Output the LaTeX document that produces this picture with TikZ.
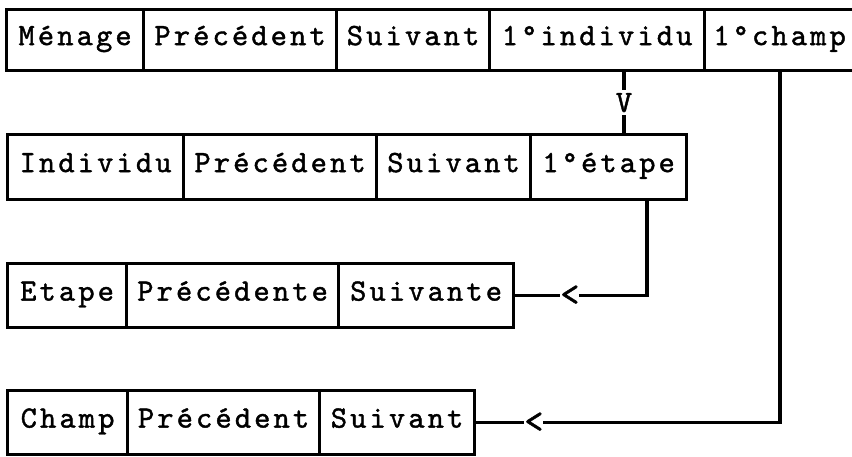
\documentclass[tikz,border=0pt]{standalone}
\usepackage{fontspec}
\newfontfamily\tw[LetterSpace=10,FakeBold=1.3]{lmmono10-regular.otf}
\begin{document}
\begin{tikzpicture}[x=1pt,y=-1pt,
  cell/.style={draw, line width=3.2pt, inner sep=0pt, anchor=north west,
    text height=18pt, text depth=8pt, font=\tw\fontsize{31}{35}\selectfont},
  link/.style={line width=3.2pt},
  tip/.style={fill=white, inner sep=1pt, font=\tw\fontsize{36}{40}\selectfont}]
\fill[white] (0,0) rectangle (852,457);
\useasboundingbox (0,0) rectangle (852,457);

% household record
\node[cell, minimum width=137pt, minimum height=61pt] (men)  at (5,8)   {Ménage};
\node[cell, minimum width=193pt, minimum height=61pt] (menp) at (142,8) {Précédent};
\node[cell, minimum width=153pt, minimum height=61pt] (mens) at (335,8) {Suivant};
\node[cell, minimum width=215pt, minimum height=61pt] (meni) at (488,8) {1°individu};
\node[cell, minimum width=150pt, minimum height=61pt] (menc) at (703,8) {1°champ};

% individual record
\node[cell, minimum width=176pt, minimum height=65pt] (ind)  at (6,133)   {Individu};
\node[cell, minimum width=193pt, minimum height=65pt] (indp) at (182,133) {Précédent};
\node[cell, minimum width=154pt, minimum height=65pt] (inds) at (375,133) {Suivant};
\node[cell, minimum width=156pt, minimum height=65pt] (inde) at (529,133) {1°étape};

% step record
\node[cell, minimum width=119pt, minimum height=64pt] (eta)  at (6,262)   {Etape};
\node[cell, minimum width=212pt, minimum height=64pt] (etap) at (125,262) {Précédente};
\node[cell, minimum width=175pt, minimum height=64pt] (etas) at (337,262) {Suivante};

% field record
\node[cell, minimum width=120pt, minimum height=64pt] (cha)  at (6,389)   {Champ};
\node[cell, minimum width=192pt, minimum height=64pt] (chap) at (126,389) {Précédent};
\node[cell, minimum width=155pt, minimum height=64pt] (chas) at (318,389) {Suivant};

% pointers
\coordinate (kI) at (624,0);
\draw[link] (meni.south -| kI) -- node[tip, inner ysep=3pt, font=\tw\fontsize{31}{35}\selectfont]{V} (inde.north -| kI);

\coordinate (kE) at (647,0);
\coordinate (cE) at (kE |- etas.east);
\draw[link] (inde.south -| kE) -- (cE) -- node[tip, pos=0.585, inner xsep=0pt]{<} (etas.east);

\coordinate (kC) at (780,0);
\coordinate (cC) at (kC |- chas.east);
\draw[link] (menc.south -| kC) -- (cC) -- node[tip, pos=0.81, inner xsep=0pt]{<} (chas.east);
\end{tikzpicture}
\end{document}
